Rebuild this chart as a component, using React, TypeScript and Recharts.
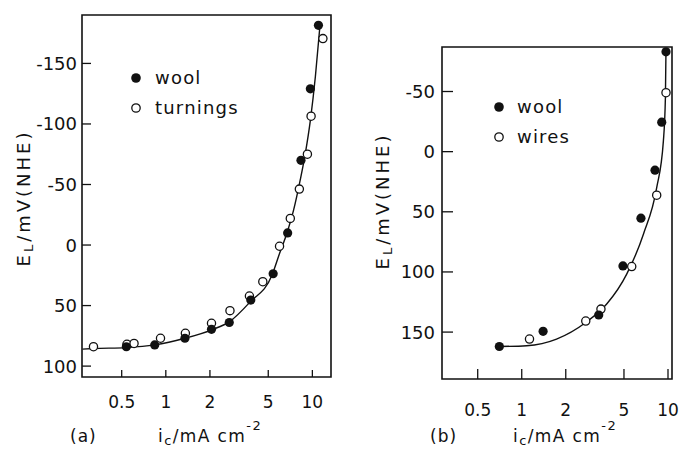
import React from 'react';
import { ComposedChart, Scatter, Line, XAxis, YAxis, ReferenceArea, Legend, Label } from 'recharts';

const FONT = '"DejaVu Sans", Verdana, sans-serif';
const INK = '#111';

// panel (a): wool vs turnings  [i_c in mA cm^-2, E_L in mV]
const xTicksA = [0.5, 1, 2, 5, 10];
const yTicksA = [-150, -100, -50, 0, 50, 100];
const woolA: [number, number][] = [
  [0.538, 84], [0.84, 82.5], [1.35, 77], [2.05, 69.6], [2.71, 64], [3.8, 45.5],
  [5.4, 23.7], [6.78, -10], [8.36, -70], [9.69, -129], [11.0, -181.5],
];
const turningsA: [number, number][] = [
  [0.321, 84], [0.543, 82], [0.607, 81.3], [0.92, 77], [1.36, 72.9], [2.05, 64.6],
  [2.74, 54.2], [3.72, 42.1], [4.59, 30.3], [5.97, 1], [7.07, -22], [8.15, -46.2],
  [9.25, -75], [9.8, -106.4], [11.8, -170.5],
];
const fitA: [number, number][] = [
  [0.27, 86], [0.32, 85.5], [0.54, 84.7], [0.84, 82.5], [1.35, 77], [2.06, 70],
  [2.74, 63], [3.76, 47], [5.3, 25], [5.97, 7], [6.71, -10], [7.45, -29],
  [8.27, -54], [8.96, -76], [9.69, -103], [10.48, -139], [11.3, -183],
];

// panel (b): wool vs wires
const xTicksB = [0.5, 1, 2, 5, 10];
const yTicksB = [-50, 0, 50, 100, 150];
const woolB: [number, number][] = [
  [0.703, 162], [1.4, 149.4], [3.36, 135.8], [4.92, 95], [6.53, 55.3],
  [8.15, 15.4], [9.06, -24.5], [9.69, -83],
];
const wiresB: [number, number][] = [
  [1.13, 155.8], [2.74, 140.8], [3.48, 130.9], [5.65, 95.5], [8.37, 36.2], [9.69, -49],
];
const fitB: [number, number][] = [
  [0.7, 162], [1.08, 161.3], [1.73, 155.8], [2.74, 142], [3.81, 126.7], [5.22, 101.8],
  [6.79, 68.6], [8.37, 30], [9.3, -9], [9.6, -45], [9.69, -86],
];

const toPoints = (rows: [number, number][]) => rows.map(([x, y]) => ({ x, y }));

const FilledDot = (p: any) => <circle cx={p.cx} cy={p.cy} r={4.6} fill={INK} />;
const OpenDot = (p: any) => (
  <circle cx={p.cx} cy={p.cy} r={4.1} fill="#fff" stroke={INK} strokeWidth={1.3} />
);

type PanelProps = {
  width: number;
  top: number;
  right: number;
  yAxisW: number;
  xAxisH: number;
  xDomain: [number, number];
  yDomain: [number, number];
  xTicks: number[];
  yTicks: number[];
  filled: [number, number][];
  open: [number, number][];
  fit: [number, number][];
  names: [string, string];
  tag: string;
  yTickLen: number;
  xTickLen: number;
  yLabelGap: number;
  xLabelDy: number;
  legendPos: { left: number; top: number };
  legendGap: number;
  yTitle: { x: number; y: number };
  xTitleDx: number;
  tagDx: number;
};

const Panel = (p: PanelProps) => {
  const yTick = (t: any) => (
    <g>
      <line x1={t.x} x2={t.x + p.yTickLen} y1={t.y} y2={t.y} stroke={INK} strokeWidth={1.3} />
      <text x={t.x - p.yLabelGap} y={t.y} textAnchor="end" dominantBaseline="central"
        fontSize={18} fontFamily={FONT} fill={INK}>{t.payload.value}</text>
    </g>
  );
  const xTick = (t: any) => (
    <g>
      <line x1={t.x} x2={t.x} y1={t.y} y2={t.y - p.xTickLen} stroke={INK} strokeWidth={1.3} />
      <text x={t.x} y={t.y + p.xLabelDy} textAnchor="middle" dominantBaseline="central"
        fontSize={17} fontFamily={FONT} fill={INK}>{t.payload.value}</text>
    </g>
  );
  const yTitle = () => (
    <text x={p.yTitle.x} y={p.yTitle.y} transform={`rotate(-90, ${p.yTitle.x}, ${p.yTitle.y})`}
      textAnchor="middle" dominantBaseline="central" fontSize={18} fontFamily={FONT}
      fill={INK} letterSpacing={3}>
      E<tspan fontSize={13} dy={5}>L</tspan><tspan dy={-5}>/mV(NHE)</tspan>
    </text>
  );
  const xTitle = (lp: any) => {
    const vb = lp.viewBox;
    const base = vb.y + p.xAxisH - 7;
    return (
      <g fontFamily={FONT} fill={INK} fontSize={17}>
        <text x={vb.x + p.tagDx} y={base} letterSpacing={1}>({p.tag})</text>
        <text x={vb.x + p.xTitleDx} y={base} letterSpacing={1.4}>
          i<tspan fontSize={13} dy={3}>c</tspan><tspan dy={-3}>/mA cm</tspan>
          <tspan fontSize={13} dy={-12}>-2</tspan>
        </text>
      </g>
    );
  };
  const legend = () => (
    <div style={{ fontFamily: FONT, fontSize: 18, color: INK, letterSpacing: 1.2 }}>
      {p.names.map((n, i) => (
        <div key={n} style={{ display: 'flex', alignItems: 'center', height: 30 }}>
          <svg width={14} height={14}>
            {i === 0 ? (
              <circle cx={7} cy={7} r={4.8} fill={INK} />
            ) : (
              <circle cx={7} cy={7} r={4.2} fill="#fff" stroke={INK} strokeWidth={1.3} />
            )}
          </svg>
          <span style={{ marginLeft: p.legendGap, lineHeight: '30px' }}>{n}</span>
        </div>
      ))}
    </div>
  );

  return (
    <ComposedChart width={p.width} height={449}
      margin={{ top: p.top, right: p.right, bottom: 0, left: 0 }}>
      <XAxis dataKey="x" type="number" scale="log" domain={p.xDomain} allowDataOverflow
        ticks={p.xTicks} height={p.xAxisH} axisLine={false} tickLine={false}
        tickSize={0} tickMargin={0} tick={xTick} interval={0}>
        <Label content={xTitle} />
      </XAxis>
      <YAxis dataKey="y" type="number" domain={p.yDomain} reversed allowDataOverflow
        ticks={p.yTicks} width={p.yAxisW} axisLine={false} tickLine={false}
        tickSize={0} tickMargin={0} tick={yTick} interval={0}>
        <Label content={yTitle} />
      </YAxis>
      <ReferenceArea x1={p.xDomain[0]} x2={p.xDomain[1]} y1={p.yDomain[0]} y2={p.yDomain[1]}
        fill="none" fillOpacity={0} stroke={INK} strokeWidth={1.6} ifOverflow="visible" />
      <Line data={toPoints(p.fit)} dataKey="y" type="monotone" dot={false} stroke={INK}
        strokeWidth={1.4} isAnimationActive={false} legendType="none" />
      <Scatter name={p.names[1]} data={toPoints(p.open)} dataKey="y" shape={OpenDot}
        isAnimationActive={false} />
      <Scatter name={p.names[0]} data={toPoints(p.filled)} dataKey="y" shape={FilledDot}
        isAnimationActive={false} />
      <Legend layout="vertical" align="center" verticalAlign="middle" content={legend}
        wrapperStyle={{ top: p.legendPos.top, left: p.legendPos.left, width: 'auto', height: 'auto' }} />
    </ComposedChart>
  );
};

export default function App() {
  return (
    <div style={{ position: 'absolute', left: 0, top: 0, width: 679, height: 449, background: '#fff' }}>
      <div style={{ position: 'absolute', left: 0, top: 0 }}>
        <Panel width={340} top={15} right={9} yAxisW={82} xAxisH={72}
          xDomain={[0.268, 13.4]} yDomain={[-190, 109]} xTicks={xTicksA} yTicks={yTicksA}
          filled={woolA} open={turningsA} fit={fitA} names={['wool', 'turnings']} tag="a"
          yTickLen={9} xTickLen={7} yLabelGap={5} xLabelDy={25}
          legendPos={{ left: 129, top: 63 }} legendGap={12}
          yTitle={{ x: 23, y: 198 }} xTitleDx={76} tagDx={-12} />
      </div>
      <div style={{ position: 'absolute', left: 340, top: 0 }}>
        <Panel width={339} top={47} right={7} yAxisW={102} xAxisH={70}
          xDomain={[0.285, 10.65]} yDomain={[-87, 189]} xTicks={xTicksB} yTicks={yTicksB}
          filled={woolB} open={wiresB} fit={fitB} names={['wool', 'wires']} tag="b"
          yTickLen={11} xTickLen={10} yLabelGap={7} xLabelDy={31}
          legendPos={{ left: 152, top: 92 }} legendGap={11}
          yTitle={{ x: 42, y: 201 }} xTitleDx={71} tagDx={-12} />
      </div>
    </div>
  );
}
